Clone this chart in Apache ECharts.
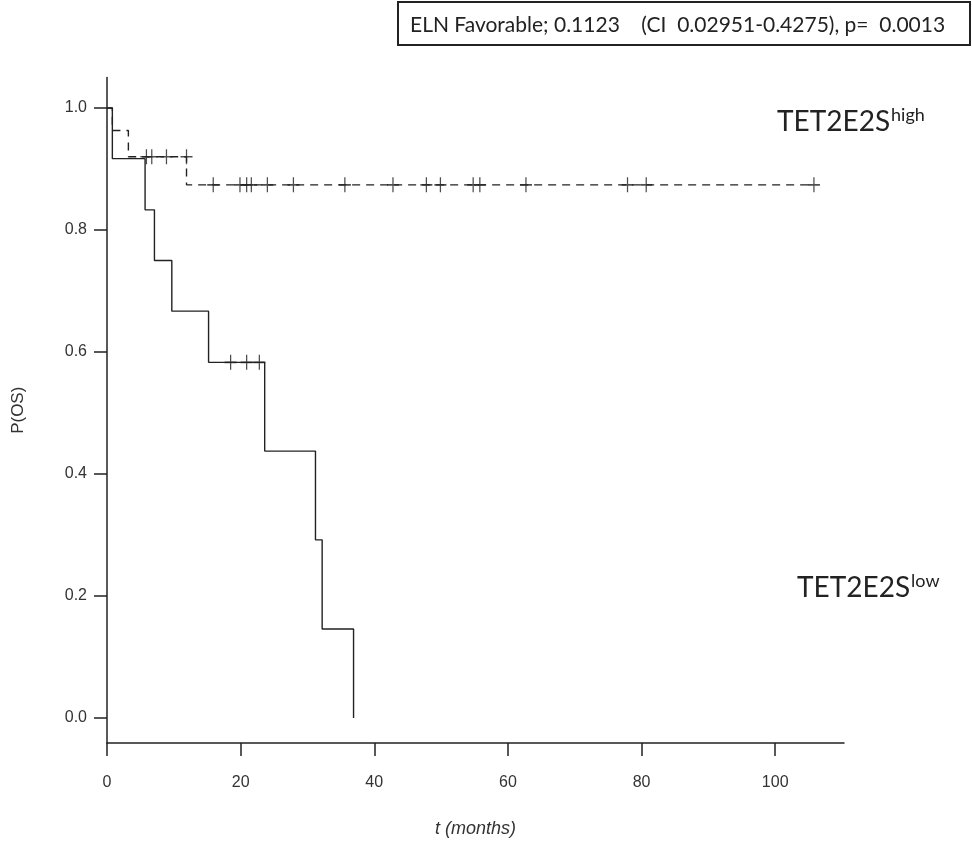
<!DOCTYPE html>
<html>
<head>
<meta charset="utf-8">
<script src="https://cdn.jsdelivr.net/npm/echarts@6/dist/echarts.min.js"></script>
<style>html,body{margin:0;padding:0;background:#fff}#c{width:972px;height:853px}</style>
</head>
<body>
<div id="c"></div>
<script>
// Step curve for TET2E2S low (solid): [time (months), P(OS)]
const lowSteps = [[0,1],[0.8,0.917],[5.7,0.833],[7.1,0.75],[9.7,0.667],[15.2,0.583],[23.6,0.4375],[31.2,0.292],[32.2,0.146],[36.9,0]];
const lowCensor = [[18.5,0.583],[20.9,0.583],[22.8,0.583]];
// Step curve for TET2E2S high (dashed)
const highSteps = [[0,1],[0.8,0.963],[3.2,0.92],[11.9,0.874],[105.8,0.874]];
const highCensor = [[5.9,0.92],[6.7,0.92],[8.9,0.92],[11.9,0.92],
  [15.9,0.874],[19.9,0.874],[20.9,0.874],[21.6,0.874],[24.0,0.874],[27.9,0.874],[35.6,0.874],[42.8,0.874],
  [47.8,0.874],[49.9,0.874],[54.8,0.874],[55.8,0.874],[62.7,0.874],[77.9,0.874],[80.7,0.874],[105.8,0.874]];
const xTicks = [0,20,40,60,80,100];
const yTicks = [0,0.2,0.4,0.6,0.8,1.0];
const titleText = 'ELN Favorable; 0.1123    (CI  0.02951-0.4275), p=  0.0013';

const ink = '#222';
const chart = echarts.init(document.getElementById('c'), null, {renderer:'canvas'});
const plusSym = 'path://M5,0L5,10M0,5L10,5';
const legendRich = {a:{fontFamily:'Lato',fontSize:28,fill:'#222'},b:{fontFamily:'Lato',fontSize:18,fill:'#222',verticalAlign:'top',padding:[0,0,14,1]}};
chart.setOption({
  animation:false,
  backgroundColor:'#fff',
  grid:{left:107,right:128,top:77.5,bottom:110,containLabel:false},
  xAxis:{type:'value',min:0,max:110.3,
    axisLine:{show:true,onZero:false,lineStyle:{color:ink,width:1.5}},
    axisTick:{show:true,length:13,customValues:xTicks,lineStyle:{color:ink,width:1.5}},
    axisLabel:{customValues:xTicks,margin:32,color:'#333',fontFamily:'Liberation Sans',fontSize:16},
    splitLine:{show:false},
    name:'t (months)',nameLocation:'middle',nameGap:77,
    nameTextStyle:{fontFamily:'Liberation Sans',fontStyle:'italic',fontSize:18,color:'#333'}},
  yAxis:{type:'value',min:-0.041,max:1.05,
    axisLine:{show:true,onZero:false,lineStyle:{color:ink,width:1.5}},
    axisTick:{show:true,length:13,customValues:yTicks,lineStyle:{color:ink,width:1.5}},
    axisLabel:{customValues:yTicks,margin:20,color:'#333',fontFamily:'Liberation Sans',fontSize:16,
      formatter:v=>v.toFixed(1)},
    splitLine:{show:false},
    name:'P(OS)',nameLocation:'middle',nameGap:80,
    nameTextStyle:{fontFamily:'Liberation Sans',fontSize:17,color:'#333'}},
  series:[
    {type:'line',step:'end',data:lowSteps,showSymbol:false,lineStyle:{color:ink,width:1.4}},
    {type:'line',step:'end',data:highSteps,showSymbol:false,lineStyle:{color:ink,width:1.4,type:[8,6]}},
    {type:'scatter',data:lowCensor,symbol:plusSym,symbolSize:[12,15],
      itemStyle:{color:'none',borderColor:ink,borderWidth:1.4}},
    {type:'scatter',data:highCensor,symbol:plusSym,symbolSize:[12,15],
      itemStyle:{color:'none',borderColor:ink,borderWidth:1.4}}
  ],
  graphic:[
    {type:'rect',shape:{x:398,y:2,width:572,height:43},style:{fill:'#fff',stroke:ink,lineWidth:2}},
    {type:'text',x:410,y:25,style:{text:titleText,fontFamily:'Lato',fontSize:21,fill:'#222',verticalAlign:'middle'}},
    {type:'text',x:777,y:138,style:{text:'{a|TET2E2S}{b|high}',verticalAlign:'bottom',rich:legendRich}},
    {type:'text',x:797,y:604,style:{text:'{a|TET2E2S}{b|low}',verticalAlign:'bottom',rich:legendRich}}
  ]
});
</script>
</body>
</html>
